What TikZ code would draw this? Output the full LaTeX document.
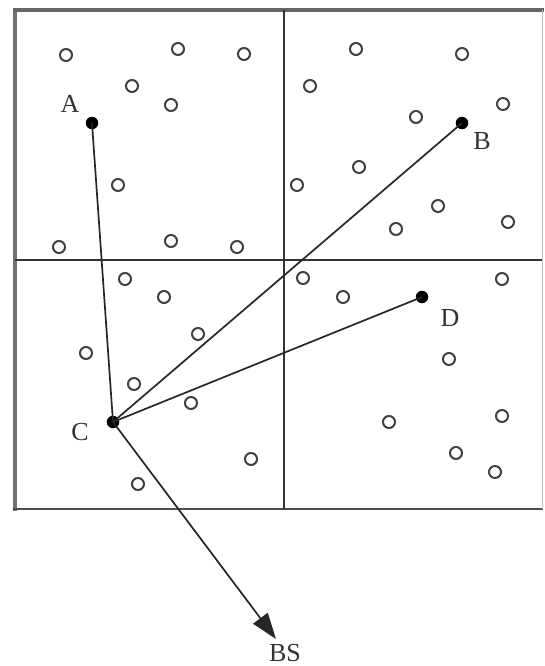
\documentclass[tikz,border=0pt]{standalone}
\usepackage{fontspec}
\setmainfont{Liberation Serif}
\usetikzlibrary{arrows.meta}
\begin{document}
\begin{tikzpicture}[x=1pt,y=-1pt,
  sensor/.style={circle,draw=black!75,line width=2pt,inner sep=0pt,minimum size=12pt},
  head/.style={circle,fill=black,inner sep=0pt,minimum size=12.5pt},
  lbl/.style={font=\fontsize{26}{28}\selectfont,text=black!80,inner sep=0pt},
  link/.style={line width=1.7pt,black!85},
  grid/.style={line width=2.2pt,black!80}]
\useasboundingbox (0,0) rectangle (544,666);
% frame
\draw[line width=4.5pt,black!55] (15,8) -- (15,511);
\draw[line width=3.5pt,black!60] (13,10) -- (544,10);
\draw[line width=2.5pt,black!70] (13,509) -- (543,509);
\draw[line width=1pt,black!25] (542,10) -- (542,509);
\draw[grid] (15,260) -- (542,260);
\draw[grid] (284,10) -- (284,509);
% sensors
\foreach \i/\x/\y in {1/66/55,2/178/49,3/244/54,4/132/86,5/171/105,6/118/185,7/59/247,8/171/241,9/237/247,
  10/356/49,11/462/54,12/310/86,13/503/104,14/416/117,15/359/167,16/297/185,17/438/206,18/396/229,19/508/222,
  20/125/279,21/164/297,22/198/334,23/86/353,24/134/384,25/191/403,26/251/459,27/138/484,
  28/303/278,29/343/297,30/502/279,31/449/359,32/389/422,33/502/416,34/456/453,35/495/472}
  \node[sensor] (s\i) at (\x,\y) {};
% cluster heads
\node[head] (A) at (92,123) {};
\node[head] (B) at (462,123) {};
\node[head] (C) at (113,422) {};
\node[head] (D) at (422,297) {};
\node[lbl] (la) at (70,104) {A};
\node[lbl] (lb) at (482,141) {B};
\node[lbl] (lc) at (80,432) {C};
\node[lbl] (ld) at (450,318) {D};
\coordinate (tip) at (276,639);
\node[lbl] (bs) at (285,653) {BS};
% links
\draw[link] (A.center) -- (C.center);
\draw[link] (B.center) -- (C.center);
\draw[link] (D.center) -- (C.center);
\draw[link,-{Triangle[length=26pt,width=18pt]}] (C.center) -- (tip);
\end{tikzpicture}
\end{document}
